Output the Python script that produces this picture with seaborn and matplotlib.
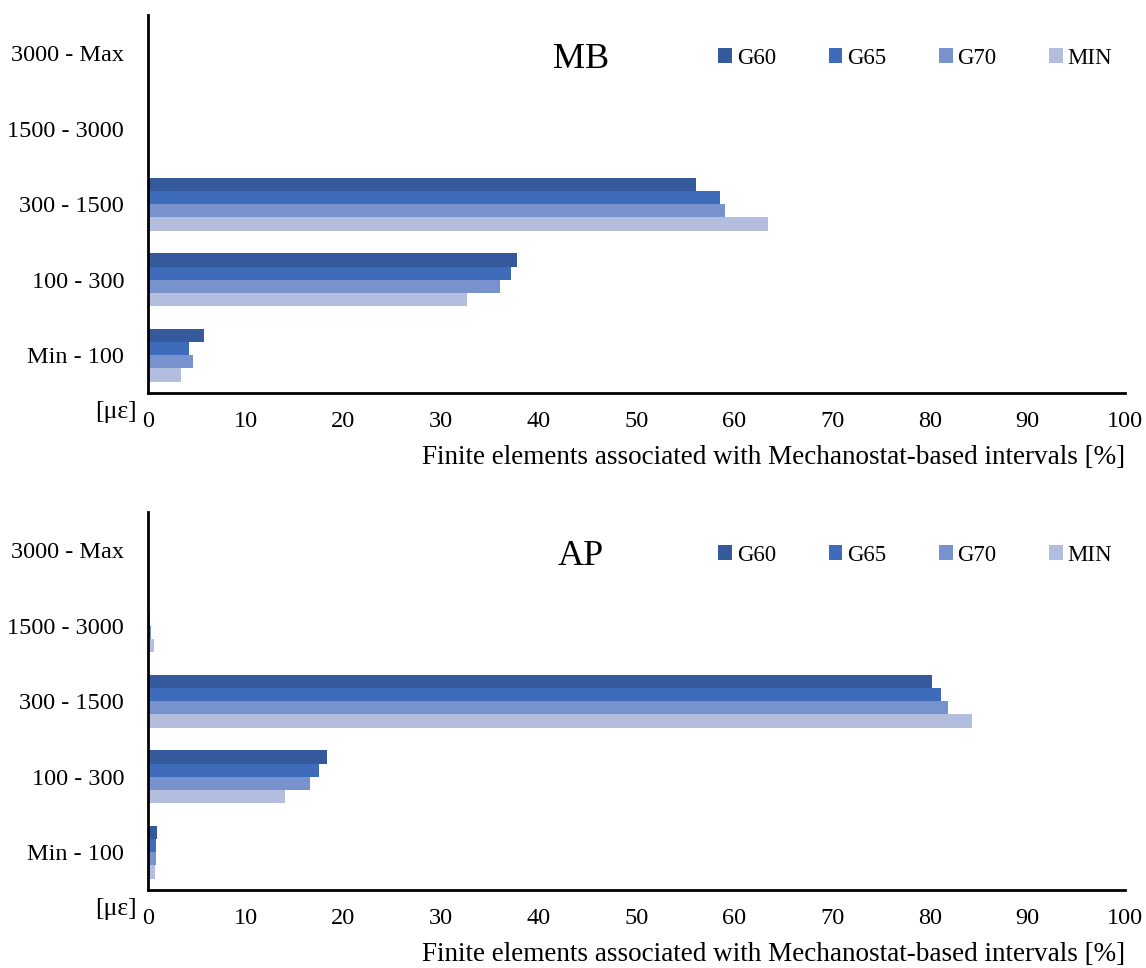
import numpy as np
import pandas as pd
import matplotlib.pyplot as plt
import seaborn as sns

# category labels (top to bottom)
intervals = ['3000 - Max', '1500 - 3000', '300 - 1500', '100 - 300', 'Min - 100']
groups = ['G60', 'G65', 'G70', 'MIN']

# values in % per group, same order as intervals
mb_g60 = [0.0, 0.0, 56.1, 37.8, 5.7]
mb_g65 = [0.0, 0.0, 58.5, 37.1, 4.2]
mb_g70 = [0.0, 0.0, 59.0, 36.0, 4.6]
mb_min = [0.0, 0.15, 63.4, 32.7, 3.4]

ap_g60 = [0.0, 0.1, 80.2, 18.3, 0.9]
ap_g65 = [0.0, 0.2, 81.1, 17.5, 0.8]
ap_g70 = [0.0, 0.3, 81.9, 16.6, 0.8]
ap_min = [0.0, 0.6, 84.3, 14.0, 0.7]

colors = ['#345A9B', '#3E6BBA', '#7892CE', '#B3BEDF']


def to_long(series):
    rows = []
    for g, vals in zip(groups, series):
        for cat, v in zip(intervals, vals):
            rows.append({'Interval': cat, 'Group': g, 'Value': v})
    return pd.DataFrame(rows)


sns.set_style('white')
plt.rcParams['font.family'] = ['Liberation Serif', 'DejaVu Serif']
plt.rcParams['text.color'] = 'black'
plt.rcParams['axes.labelcolor'] = 'black'
plt.rcParams['xtick.color'] = 'black'
plt.rcParams['ytick.color'] = 'black'

fig = plt.figure(figsize=(11.46, 9.68), dpi=100)
ax_top = fig.add_axes([0.129, 0.594, 0.853, 0.390])
ax_bot = fig.add_axes([0.129, 0.0806, 0.853, 0.390])

panels = [
    (ax_top, 'MB', [mb_g60, mb_g65, mb_g70, mb_min]),
    (ax_bot, 'AP', [ap_g60, ap_g65, ap_g70, ap_min]),
]

for ax, name, series in panels:
    df = to_long(series)
    sns.barplot(data=df, x='Value', y='Interval', hue='Group', order=intervals,
                hue_order=groups, palette=colors, orient='h', width=0.7,
                saturation=1, ax=ax, errorbar=None, linewidth=0)
    ax.set_xlim(0, 100)
    ax.set_ylim(4.5, -0.5)
    ax.set_xticks(np.arange(0, 101, 10))
    ax.tick_params(axis='x', direction='in', length=7, width=1.5, labelsize=17.5, pad=13)
    ax.set_yticks(range(len(intervals)))
    ax.set_yticklabels(intervals)
    ax.tick_params(axis='y', which='major', length=0, labelsize=17.5, pad=17)
    ax.set_yticks(np.arange(-0.5, 4.6, 1.0), minor=True)
    ax.tick_params(axis='y', which='minor', direction='in', length=7, width=2)
    ax.set_xlabel('Finite elements associated with Mechanostat-based intervals [%]',
                  fontsize=19.5, loc='right', labelpad=9)
    ax.set_ylabel('')
    for s in ['top', 'right']:
        ax.spines[s].set_visible(False)
    for s in ['left', 'bottom']:
        ax.spines[s].set_color('black')
        ax.spines[s].set_linewidth(2)
    ax.text(0.443, 0.884, name, transform=ax.transAxes, ha='center', va='center', fontsize=26)
    ax.text(-0.011, -0.05, '[με]', transform=ax.transAxes, ha='right', va='center', fontsize=18.5)
    ax.legend(loc='center', bbox_to_anchor=(0.785, 0.887), ncol=4, frameon=False,
              fontsize=16.5, handlelength=0.6, handleheight=0.6, handletextpad=0.2,
              columnspacing=2.3, borderaxespad=0)

fig.savefig('out.png', dpi=100)
